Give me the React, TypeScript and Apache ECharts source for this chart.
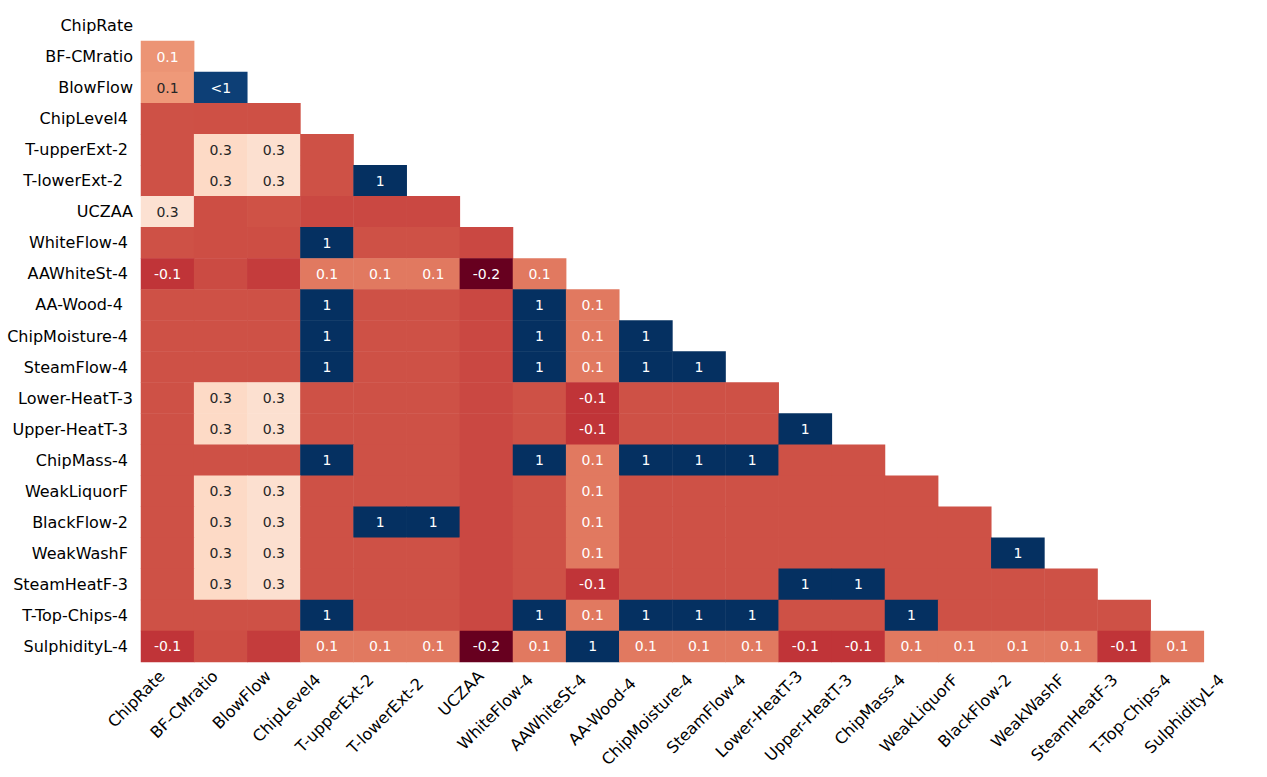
import React, { useEffect, useRef } from 'react';
import * as echarts from 'echarts';

// Variable names (some carry trailing spaces, as in the source data)
const variables: string[] = [
  'ChipRate', 'BF-CMratio', 'BlowFlow', 'ChipLevel4 ', 'T-upperExt-2 ', 'T-lowerExt-2  ',
  'UCZAA', 'WhiteFlow-4 ', 'AAWhiteSt-4 ', 'AA-Wood-4  ', 'ChipMoisture-4 ', 'SteamFlow-4 ',
  'Lower-HeatT-3', 'Upper-HeatT-3 ', 'ChipMass-4 ', 'WeakLiquorF ', 'BlackFlow-2 ', 'WeakWashF ',
  'SteamHeatF-3 ', 'T-Top-Chips-4 ', 'SulphidityL-4 ',
];

// RdBu colormap stops
const rdBu: string[] = [
  '#67001f', '#b2182b', '#d6604d', '#f4a582', '#fddbc7', '#f7f7f7',
  '#d1e5f0', '#92c5de', '#4393c3', '#2166ac', '#053061',
];

// Nullity correlation, lower triangle (row i holds columns 0..i-1)
const lowerTriangle: number[][] = [
  [],
  [0.108],
  [0.117, 0.965],
  [-0.01, -0.012, -0.012],
  [-0.01, 0.26, 0.285, -0.01],
  [-0.01, 0.26, 0.285, -0.01, 1],
  [0.29, -0.015, -0.008, -0.025, -0.025, -0.025],
  [-0.01, -0.015, -0.015, 1, -0.01, -0.01, -0.025],
  [-0.06, -0.02, -0.045, 0.06, 0.06, 0.06, -0.23, 0.06],
  [-0.01, -0.01, -0.01, 1, -0.01, -0.01, -0.025, 1, 0.06],
  [-0.01, -0.01, -0.01, 1, -0.01, -0.01, -0.025, 1, 0.06, 1],
  [-0.01, -0.01, -0.01, 1, -0.01, -0.01, -0.025, 1, 0.06, 1, 1],
  [-0.01, 0.26, 0.285, -0.01, -0.01, -0.01, -0.025, -0.01, -0.06, -0.01, -0.01, -0.01],
  [-0.01, 0.26, 0.285, -0.01, -0.01, -0.01, -0.025, -0.01, -0.06, -0.01, -0.01, -0.01, 1],
  [-0.01, -0.01, -0.01, 1, -0.01, -0.01, -0.025, 1, 0.06, 1, 1, 1, -0.01, -0.01],
  [-0.01, 0.26, 0.285, -0.01, -0.01, -0.01, -0.025, -0.01, 0.06, -0.01, -0.01, -0.01, -0.01, -0.01, -0.01],
  [-0.01, 0.26, 0.285, -0.01, 1, 1, -0.025, -0.01, 0.06, -0.01, -0.01, -0.01, -0.01, -0.01, -0.01, -0.01],
  [-0.01, 0.26, 0.285, -0.01, -0.01, -0.01, -0.025, -0.01, 0.06, -0.01, -0.01, -0.01, -0.01, -0.01, -0.01, -0.01, 1],
  [-0.01, 0.26, 0.285, -0.01, -0.01, -0.01, -0.025, -0.01, -0.06, -0.01, -0.01, -0.01, 1, 1, -0.01, -0.01, -0.01, -0.01],
  [-0.01, -0.01, -0.01, 1, -0.01, -0.01, -0.025, 1, 0.06, 1, 1, 1, -0.01, -0.01, 1, -0.01, -0.01, -0.01, -0.01],
  [-0.06, -0.015, -0.045, 0.06, 0.06, 0.06, -0.23, 0.06, 1, 0.06, 0.06, 0.06, -0.06, -0.06, 0.06, 0.06, 0.06, 0.06, -0.06, 0.06],
];

const FONT = 'DejaVu Sans';

function annotText(v: number): string {
  if (v === 1) return '1';
  if (v === -1) return '-1';
  if (v >= 0.95 && v < 1) return '<1';
  if (v <= -0.95 && v > -1) return '>-1';
  if (v > -0.05 && v < 0.05) return '';
  return v.toFixed(1);
}

const nb = (s: string) => s.replace(/ /g, '\u00A0');

export default function App() {
  const ref = useRef<HTMLDivElement>(null);

  useEffect(() => {
    if (!ref.current) return;
    const chart = echarts.init(ref.current, null, { renderer: 'svg' });

    const data: any[] = [];
    const all: number[] = [];
    lowerTriangle.forEach((row, i) => {
      row.forEach((v, j) => {
        all.push(v);
        data.push({
          value: [j, i, v],
          label: { color: v > 0.112 && v < 0.6 ? '#262626' : '#ffffff' },
        });
      });
    });
    const vmin = Math.min(...all);
    const vmax = Math.max(...all);

    chart.setOption({
      animation: false,
      grid: {
        left: 141,
        top: 10,
        width: 1116,
        height: 652,
        outerBoundsMode: 'none',
      },
      xAxis: {
        type: 'category',
        data: variables,
        axisLine: { show: false },
        axisTick: { show: false },
        splitLine: { show: false },
        axisLabel: {
          interval: 0,
          rotate: 45,
          margin: 17,
          verticalAlign: 'bottom',
          align: 'right',
          fontFamily: FONT,
          fontSize: 16,
          color: '#000',
          formatter: (s: string) => nb(s),
        },
      },
      yAxis: {
        type: 'category',
        data: variables,
        inverse: true,
        axisLine: { show: false },
        axisTick: { show: false },
        splitLine: { show: false },
        axisLabel: {
          interval: 0,
          margin: 8,
          fontFamily: FONT,
          fontSize: 16,
          color: '#000',
          formatter: (s: string) => nb(s),
        },
      },
      visualMap: {
        show: false,
        type: 'continuous',
        dimension: 2,
        min: vmin,
        max: vmax,
        inRange: { color: rdBu },
      },
      series: [
        {
          type: 'heatmap',
          data,
          itemStyle: { borderWidth: 0 },
          label: {
            show: true,
            fontFamily: FONT,
            fontSize: 14,
            formatter: (p: any) => annotText(p.value[2]),
          },
          emphasis: { disabled: true },
        },
      ],
    });

    return () => chart.dispose();
  }, []);

  return (
    <div
      ref={ref}
      style={{ position: 'absolute', left: 0, top: 0, width: 1267, height: 777 }}
    />
  );
}
